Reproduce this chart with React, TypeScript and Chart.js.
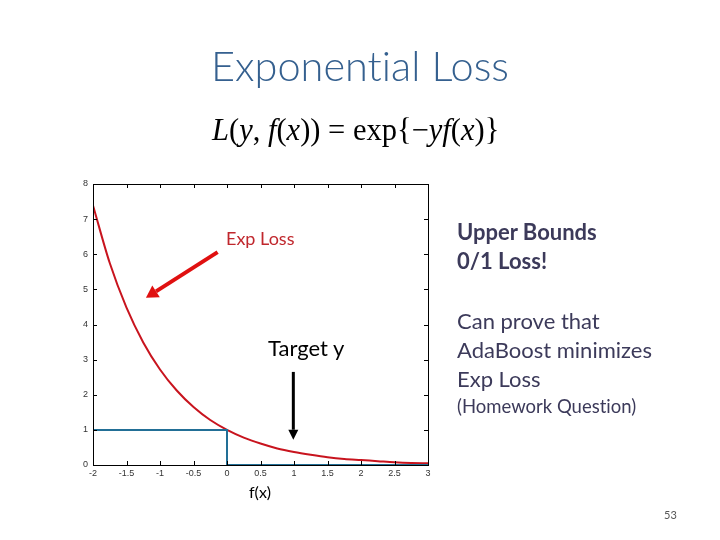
import React, { useEffect, useRef } from "react";
import { Chart, registerables } from "chart.js";
Chart.register(...registerables);

// Data
const expX = [-2, -1.75, -1.5, -1.25, -1, -0.75, -0.5, -0.25, 0, 0.25, 0.5, 0.75, 1, 1.25, 1.5, 1.75, 2, 2.25, 2.5, 2.75, 3];
const expY = [7.39, 5.75, 4.48, 3.49, 2.72, 2.12, 1.65, 1.28, 1.0, 0.78, 0.61, 0.47, 0.37, 0.29, 0.22, 0.17, 0.14, 0.11, 0.08, 0.06, 0.05];
const stepX = [-2, 0, 0, 3];
const stepY = [1, 1, 0, 0];
const xTickValues = [-2, -1.5, -1, -0.5, 0, 0.5, 1, 1.5, 2, 2.5, 3];
const xTickLabels = ["-2", "-1.5", "-1", "-0.5", "0", "0.5", "1", "1.5", "2", "2.5", "3"];
const yTickValues = [0, 1, 2, 3, 4, 5, 6, 7, 8];
const yTickLabels = ["0", "1", "2", "3", "4", "5", "6", "7", "8"];
// Annotation arrows in data coordinates: [x0, y0, x1, y1]
const redArrow = [-0.14, 6.06, -1.21, 4.76];
const blackArrow = [0.99, 2.65, 0.99, 0.72];

const frameAndArrows = {
  id: "frameAndArrows",
  afterDatasetsDraw(chart: any) {
    const { ctx, chartArea: a, scales } = chart;
    const xs = scales.x, ys = scales.y;
    ctx.save();
    ctx.strokeStyle = "#000";
    ctx.lineWidth = 1;
    ctx.strokeRect(a.left + 0.5, a.top + 0.5, a.right - a.left, a.bottom - a.top);
    const tl = 4;
    ctx.beginPath();
    xTickValues.forEach((v) => {
      const px = Math.round(xs.getPixelForValue(v)) + 0.5;
      ctx.moveTo(px, a.bottom); ctx.lineTo(px, a.bottom - tl);
      ctx.moveTo(px, a.top); ctx.lineTo(px, a.top + tl);
    });
    yTickValues.forEach((v) => {
      const py = Math.round(ys.getPixelForValue(v)) + 0.5;
      ctx.moveTo(a.left, py); ctx.lineTo(a.left + tl, py);
      ctx.moveTo(a.right, py); ctx.lineTo(a.right - tl, py);
    });
    ctx.stroke();

    // tick labels
    ctx.fillStyle = "#333";
    ctx.font = "9px 'Liberation Sans', Arial, sans-serif";
    ctx.textAlign = "center";
    ctx.textBaseline = "top";
    xTickValues.forEach((v, i) => {
      ctx.fillText(xTickLabels[i], xs.getPixelForValue(v), a.bottom + 4);
    });
    ctx.textAlign = "right";
    ctx.textBaseline = "middle";
    yTickValues.forEach((v, i) => {
      ctx.fillText(yTickLabels[i], a.left - 5, ys.getPixelForValue(v));
    });

    const arrow = (d: number[], color: string, w: number, head: number, hw: number) => {
      const x0 = xs.getPixelForValue(d[0]), y0 = ys.getPixelForValue(d[1]);
      const x1 = xs.getPixelForValue(d[2]), y1 = ys.getPixelForValue(d[3]);
      const ang = Math.atan2(y1 - y0, x1 - x0);
      const bx = x1 - head * Math.cos(ang), by = y1 - head * Math.sin(ang);
      ctx.strokeStyle = color; ctx.fillStyle = color; ctx.lineWidth = w;
      ctx.beginPath(); ctx.moveTo(x0, y0); ctx.lineTo(bx, by); ctx.stroke();
      ctx.beginPath();
      ctx.moveTo(x1, y1);
      ctx.lineTo(bx + hw * Math.sin(ang), by - hw * Math.cos(ang));
      ctx.lineTo(bx - hw * Math.sin(ang), by + hw * Math.cos(ang));
      ctx.closePath(); ctx.fill();
    };
    arrow(redArrow, "#E01010", 4, 12, 7);
    arrow(blackArrow, "#000000", 3, 10, 5);
    ctx.restore();
  },
};

export default function App() {
  const ref = useRef<HTMLCanvasElement>(null);
  useEffect(() => {
    const chart = new Chart(ref.current!, {
      type: "scatter",
      data: {
        datasets: [
          {
            data: stepX.map((x, i) => ({ x, y: stepY[i] })),
            showLine: true, borderColor: "#226F96", borderWidth: 2, pointRadius: 0, tension: 0,
          },
          {
            data: expX.map((x, i) => ({ x, y: expY[i] })),
            showLine: true, borderColor: "#C8141E", borderWidth: 2, pointRadius: 0,
            cubicInterpolationMode: "monotone",
          },
        ],
      },
      options: {
        responsive: false,
        animation: false,
        layout: { padding: { left: 93, right: 292, top: 184, bottom: 75 } },
        plugins: { legend: { display: false }, tooltip: { enabled: false } },
        scales: {
          x: { type: "linear", min: -2, max: 3, display: false },
          y: { type: "linear", min: 0, max: 8, display: false },
        },
      },
      plugins: [frameAndArrows],
    } as any);
    return () => chart.destroy();
  }, []);

  const abs = (left: number, top: number, extra: React.CSSProperties = {}): React.CSSProperties => ({
    position: "absolute", left, top, lineHeight: 1, whiteSpace: "nowrap", fontVariantLigatures: "none", ...extra,
  });
  const sans = "Lato, 'Open Sans', sans-serif";
  const body = "#3C3A5A";

  return (
    <div style={{ position: "fixed", left: 0, top: 0, width: 720, height: 540, background: "#fff", overflow: "hidden" }}>
      <canvas ref={ref} width={720} height={540} style={{ position: "absolute", left: 0, top: 0 }} />
      <div style={abs(211, 45, { fontFamily: sans, fontWeight: 300, fontSize: 41.5, color: "#35608F" })}>Exponential Loss</div>
      <div style={abs(212, 115, { fontFamily: "'Liberation Serif', serif", fontSize: 30.5, color: "#000" })}>
        <i>L</i>(<i>y</i>, <i>f</i>(<i>x</i>)) = exp{"{"}−<i>yf</i>(<i>x</i>){"}"}
      </div>
      <div style={abs(226, 229, { fontFamily: sans, fontSize: 18, color: "#C0272D" })}>Exp Loss</div>
      <div style={abs(268, 337, { fontFamily: sans, fontSize: 22, color: "#000" })}>Target y</div>
      <div style={abs(457, 217, { fontFamily: sans, fontSize: 22, color: body, fontWeight: 700, lineHeight: "29px" })}>
        Upper Bounds<br />0/1 Loss!
      </div>
      <div style={abs(457, 306, { fontFamily: sans, fontSize: 22, color: body, lineHeight: "29px" })}>
        Can prove that<br />AdaBoost minimizes<br />Exp Loss
      </div>
      <div style={abs(457, 397, { fontFamily: sans, fontSize: 18.5, color: body })}>(Homework Question)</div>
      <div style={abs(249, 484, { fontFamily: sans, fontSize: 16, color: "#000" })}>f(x)</div>
      <div style={abs(664, 509, { fontFamily: sans, fontSize: 11, color: "#555" })}>53</div>
    </div>
  );
}
